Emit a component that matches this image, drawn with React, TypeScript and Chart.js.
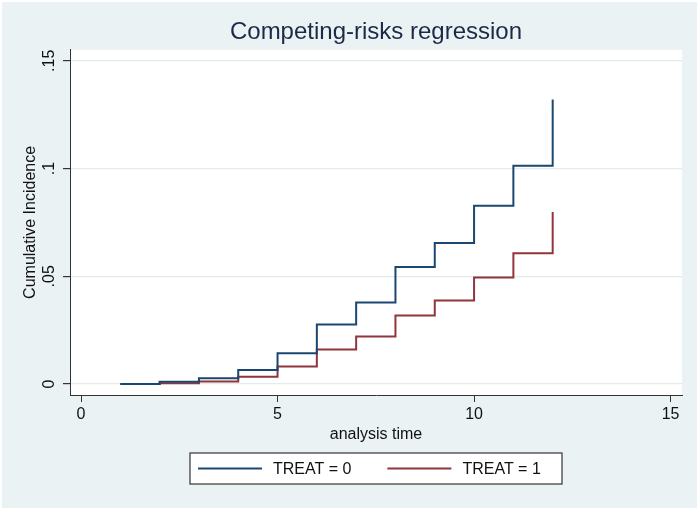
import { useEffect, useRef } from 'react';
import { Chart, registerables } from 'chart.js';

Chart.register(...registerables);

// analysis time points (step changes)
const times = [1, 2, 3, 4, 5, 6, 7, 8, 9, 10, 11, 12];
// cumulative incidence, TREAT = 0
const treat0 = [0, 0.001, 0.0027, 0.0065, 0.0143, 0.0276, 0.0378, 0.0543, 0.0654, 0.0827, 0.1013, 0.132];
// cumulative incidence, TREAT = 1
const treat1 = [0, 0.0004, 0.0012, 0.0034, 0.0081, 0.016, 0.022, 0.0318, 0.0388, 0.0494, 0.0607, 0.0798];

const seriesLabels = ['TREAT = 0', 'TREAT = 1'];
const seriesColors = ['#1a476f', '#90353b'];

const xTicks = [0, 5, 10, 15];
const yTicks = [0, 0.05, 0.1, 0.15];
const yTickLabels = ['0', '.05', '.1', '.15'];

const FONT = "'Liberation Sans', Arial, Helvetica, sans-serif";
const BG = '#eaf2f3';
const INK = '#111111';

// Stata-like backdrop: light blue-grey page, white plot region
const backdrop = {
  id: 'backdrop',
  beforeDraw(chart: Chart) {
    const { ctx, width, height, chartArea } = chart;
    ctx.save();
    ctx.fillStyle = '#ffffff';
    ctx.fillRect(0, 0, width, height);
    ctx.fillStyle = BG;
    ctx.fillRect(2, 2, width - 4, height - 5);
    ctx.fillStyle = '#ffffff';
    ctx.fillRect(chartArea.left, chartArea.top, chartArea.right - chartArea.left, chartArea.bottom - chartArea.top);
    ctx.restore();
  },
};

// y tick labels rotated like Stata's
const rotatedYLabels = {
  id: 'rotatedYLabels',
  afterDraw(chart: Chart) {
    const { ctx } = chart;
    const y = chart.scales.y;
    ctx.save();
    ctx.fillStyle = INK;
    ctx.font = `16px ${FONT}`;
    ctx.textAlign = 'center';
    ctx.textBaseline = 'middle';
    yTicks.forEach((v, i) => {
      const py = y.getPixelForValue(v);
      ctx.save();
      ctx.translate(y.right - 20, py);
      ctx.rotate(-Math.PI / 2);
      ctx.fillText(yTickLabels[i], 0, 0);
      ctx.restore();
    });
    ctx.restore();
  },
};

// boxed legend below the axis title
const boxLegend = {
  id: 'boxLegend',
  afterDraw(chart: Chart) {
    const { ctx, chartArea } = chart;
    const cx = (chartArea.left + chartArea.right) / 2;
    const boxW = 372;
    const boxH = 31;
    const left = cx - boxW / 2;
    const top = chartArea.bottom + 58;
    const midY = top + boxH / 2;
    ctx.save();
    ctx.fillStyle = '#ffffff';
    ctx.fillRect(left, top, boxW, boxH);
    ctx.strokeStyle = '#333333';
    ctx.lineWidth = 1.2;
    ctx.strokeRect(left, top, boxW, boxH);
    ctx.font = `16px ${FONT}`;
    ctx.textBaseline = 'middle';
    ctx.textAlign = 'left';
    let x = left + 8;
    seriesLabels.forEach((label, i) => {
      ctx.strokeStyle = seriesColors[i];
      ctx.lineWidth = 2;
      ctx.beginPath();
      ctx.moveTo(x, midY);
      ctx.lineTo(x + 64, midY);
      ctx.stroke();
      ctx.fillStyle = INK;
      ctx.fillText(label, x + 75, midY + 1);
      x += 75 + ctx.measureText(label).width + 36;
    });
    ctx.restore();
  },
};

export default function App() {
  const canvasRef = useRef<HTMLCanvasElement>(null);
  const chartRef = useRef<Chart | null>(null);

  useEffect(() => {
    if (!canvasRef.current) return;
    const ctx = canvasRef.current.getContext('2d');
    if (!ctx) return;

    if (chartRef.current) chartRef.current.destroy();

    Chart.defaults.font.family = FONT;

    chartRef.current = new Chart(ctx, {
      type: 'line',
      data: {
        datasets: [treat0, treat1].map((series, i) => ({
          label: seriesLabels[i],
          data: times.map((t, j) => ({ x: t, y: series[j] })),
          borderColor: seriesColors[i],
          backgroundColor: seriesColors[i],
          borderWidth: 2,
          stepped: 'before' as const,
          pointRadius: 0,
          pointHoverRadius: 0,
          fill: false,
        })),
      },
      options: {
        animation: false,
        responsive: false,
        events: [],
        layout: { padding: { top: 0, right: 17, bottom: 61, left: 0 } },
        plugins: {
          legend: { display: false },
          tooltip: { enabled: false },
          title: {
            display: true,
            text: 'Competing-risks regression',
            fullSize: false,
            color: '#1c2a48',
            font: { size: 24, weight: 'normal', family: FONT },
            padding: { top: 18, bottom: 3 },
          },
        },
        scales: {
          x: {
            type: 'linear',
            min: -0.28,
            max: 15.29,
            afterBuildTicks: (s: any) => {
              s.ticks = xTicks.map((v) => ({ value: v }));
            },
            afterFit: (s: any) => {
              s.height = 55;
            },
            grid: { drawOnChartArea: false, tickLength: 7, tickColor: '#333333', lineWidth: 1 },
            border: { display: true, color: '#333333', width: 1 },
            ticks: {
              color: INK,
              font: { size: 16, family: FONT },
              padding: 3,
              maxRotation: 0,
              callback: (v: any) => String(v),
            },
            title: {
              display: true,
              text: 'analysis time',
              color: INK,
              font: { size: 16, family: FONT },
              padding: { top: 0, bottom: 6 },
            },
          },
          y: {
            type: 'linear',
            min: -0.0051,
            max: 0.1551,
            afterBuildTicks: (s: any) => {
              s.ticks = yTicks.map((v) => ({ value: v }));
            },
            afterFit: (s: any) => {
              s.width = 70;
            },
            grid: { color: '#e3ebec', lineWidth: 1.2, tickLength: 7, tickColor: '#333333' },
            border: { display: true, color: '#333333', width: 1 },
            ticks: { display: false },
            title: {
              display: true,
              text: 'Cumulative Incidence',
              color: INK,
              font: { size: 16, family: FONT },
              padding: { top: 21, bottom: 0 },
            },
          },
        },
      },
      plugins: [backdrop, rotatedYLabels, boxLegend],
    });

    return () => {
      if (chartRef.current) {
        chartRef.current.destroy();
        chartRef.current = null;
      }
    };
  }, []);

  return (
    <div style={{ position: 'fixed', left: 0, top: 0, width: 699, height: 511 }}>
      <canvas ref={canvasRef} width={699} height={511} style={{ display: 'block' }} />
    </div>
  );
}
